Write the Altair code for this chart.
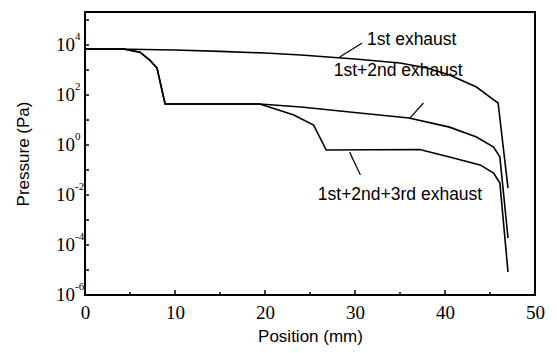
import altair as alt
import pandas as pd

# ---- data ----
s1_x = [0, 5, 10, 15, 20, 24, 30, 35, 38, 40.5, 43.5, 45, 45.9, 47]
s1_p = [6900, 6800, 6300, 5600, 4800, 4000, 2750, 1900, 1200, 630, 210, 83, 48, 0.019]

s2_x = [0, 4.3, 6.1, 7.2, 8, 8.9, 19.4, 24, 30.5, 36, 40.5, 43.5, 45.4, 46.1, 47]
s2_p = [6900, 6900, 5200, 2500, 1200, 44, 44, 33, 19, 12, 5.2, 2.1, 0.83, 0.33, 1.9e-4]

s3_x = [0, 4.3, 6.1, 7.2, 8, 8.9, 19.4, 21.5, 23.2, 25.4, 26.8, 37.2, 40.5, 43.9, 45.4, 46.1, 47]
s3_p = [6900, 6900, 5200, 2500, 1200, 44, 44, 25, 16, 6.3, 0.63, 0.66, 0.33, 0.16, 0.076, 0.03, 8.3e-6]

label_text = ["1st exhaust", "1st+2nd exhaust", "1st+2nd+3rd exhaust"]
label_x = [36.3, 34.8, 35.0]
label_p = [1.6e4, 910, 0.01]

lead_x1 = [28.3, 36.1, 29.4]
lead_p1 = [3300, 12, 0.52]
lead_x2 = [30.8, 37.6, 30.6]
lead_p2 = [1.2e4, 48, 0.063]

x_major_ticks = [10, 20, 30, 40]
x_minor_ticks = [5, 15, 25, 35, 45]
x_tick_labels = [0, 10, 20, 30, 40, 50]
y_decades = [1e-6, 1e-5, 1e-4, 1e-3, 1e-2, 1e-1, 1, 10, 100, 1e3, 1e4, 1e5]
y_label_vals = [1e-6, 1e-4, 1e-2, 1, 1e2, 1e4]
y_label_exp = ["-6", "-4", "-2", "0", "2", "4"]

# ---- tables ----
rows = []
for name, xs, ps in [("1st", s1_x, s1_p), ("2nd", s2_x, s2_p), ("3rd", s3_x, s3_p)]:
    for i, (x, p) in enumerate(zip(xs, ps)):
        rows.append({"series": name, "x": x, "p": p, "order": i})
lines_df = pd.DataFrame(rows)
labels_df = pd.DataFrame({"text": label_text, "x": label_x, "p": label_p})
lead_df = pd.DataFrame({"x": lead_x1, "p": lead_p1, "x2": lead_x2, "p2": lead_p2})
xmaj_df = pd.DataFrame({"x": x_major_ticks})
xmin_df = pd.DataFrame({"x": x_minor_ticks})
yt_df = pd.DataFrame({"p": y_decades})
yl_df = pd.DataFrame({"p": y_label_vals, "exp": y_label_exp, "base": ["10"] * len(y_label_vals)})

xscale = alt.Scale(domain=[0, 50], nice=False, zero=False)
yscale = alt.Scale(type="log", domain=[1e-6, 2.1e5], nice=False)

x_axis = alt.Axis(values=x_tick_labels, ticks=False, domain=False, grid=False,
                  labelFont="Liberation Serif", labelFontSize=19, labelColor="black",
                  labelPadding=8, labelFlush=False, title="Position (mm)",
                  titleFont="Liberation Sans", titleFontSize=17, titleFontWeight="normal",
                  titleColor="black", titleBaseline="middle", titleX=225, titleY=41)
y_axis = alt.Axis(values=y_label_vals, ticks=False, domain=False, grid=False, labels=False,
                  title="Pressure (Pa)", titleFont="Liberation Sans", titleFontSize=17,
                  titleFontWeight="normal", titleColor="black", titleAngle=270,
                  titleBaseline="middle", titleAlign="center", titleX=-62, titleY=141.5)

lines = alt.Chart(lines_df).mark_line(color="black", strokeWidth=1.6).encode(
    x=alt.X("x:Q", scale=xscale, axis=x_axis),
    y=alt.Y("p:Q", scale=yscale, axis=y_axis),
    detail="series:N",
    order="order:Q",
)

texts = alt.Chart(labels_df).mark_text(font="Liberation Sans", fontSize=17.5, color="black",
                                       align="center", baseline="middle").encode(
    x=alt.X("x:Q", scale=xscale), y=alt.Y("p:Q", scale=yscale), text="text:N")

leads = alt.Chart(lead_df).mark_rule(color="black", strokeWidth=1.2).encode(
    x=alt.X("x:Q", scale=xscale), y=alt.Y("p:Q", scale=yscale),
    x2="x2:Q", y2="p2:Q")

xmaj = alt.Chart(xmaj_df).mark_rule(color="black", strokeWidth=1.5).encode(
    x=alt.X("x:Q", scale=xscale), y=alt.value(283), y2=alt.value(278))
xmin = alt.Chart(xmin_df).mark_rule(color="black", strokeWidth=1.5).encode(
    x=alt.X("x:Q", scale=xscale), y=alt.value(283), y2=alt.value(280))

yticks = alt.Chart(yt_df).mark_rule(color="black", strokeWidth=1.5).encode(
    y=alt.Y("p:Q", scale=yscale), x=alt.value(0), x2=alt.value(4))

ybase = alt.Chart(yl_df).mark_text(font="Liberation Serif", fontSize=19, color="black",
                                   align="right", baseline="middle", dx=-10).encode(
    y=alt.Y("p:Q", scale=yscale), x=alt.value(0), text="base:N")
yexp = alt.Chart(yl_df).mark_text(font="Liberation Serif", fontSize=11, color="black",
                                  align="left", baseline="middle", dx=-10, dy=-8).encode(
    y=alt.Y("p:Q", scale=yscale), x=alt.value(0), text="exp:N")

chart = alt.layer(lines, leads, texts, xmaj, xmin, yticks, ybase, yexp).properties(
    width=450, height=283,
    background="white",
    autosize=alt.AutoSizeParams(type="none"),
    padding={"left": 77, "top": 4, "right": 14, "bottom": 50},
).configure_view(stroke="black", strokeWidth=2)

chart.save("out.html", embed_options={"renderer": "svg", "actions": False})
